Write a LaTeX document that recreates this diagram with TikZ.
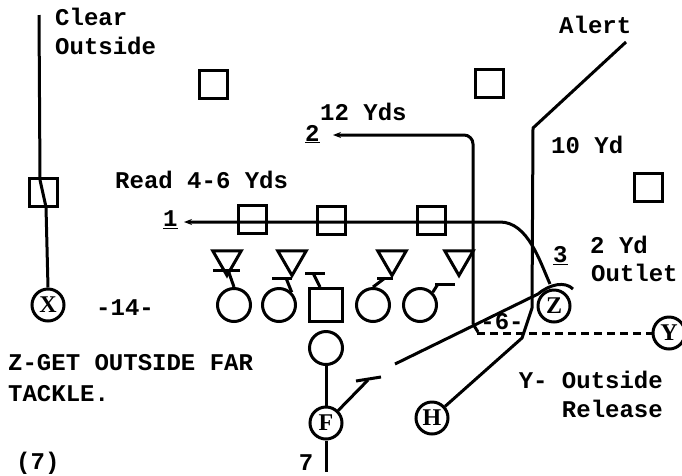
\documentclass[tikz,border=0pt]{standalone}
\usepackage{fontspec}
\setmainfont{Liberation Mono}
\newfontfamily\recfont{Liberation Serif}
\usetikzlibrary{shapes.geometric,arrows.meta}
\begin{document}
\begin{tikzpicture}[x=1pt,y=-1pt,
  route/.style={draw, line width=3pt, line join=round},
  lab/.style={inner sep=0pt, font=\fontsize{24}{24}\selectfont\bfseries, anchor=west},
  pl/.style={circle, draw, line width=3pt, minimum size=33pt, inner sep=0pt},
  rec/.style={circle, draw, line width=3pt, minimum size=32pt, inner sep=0pt, font=\recfont\fontsize{24}{24}\selectfont\bfseries},
  sqr/.style={rectangle, draw, line width=3pt, minimum size=28pt, inner sep=0pt},
  csq/.style={rectangle, draw, line width=3pt, minimum size=33pt, inner sep=0pt},
  dl/.style={regular polygon, regular polygon sides=3, shape border rotate=180, draw, line width=3pt, minimum size=33pt, inner sep=0pt},
  tip/.style={-{Stealth[length=8pt,width=6pt]}}
]
\useasboundingbox (0,0) rectangle (682,475);

% labels
\node[lab] (tclear) at (55,17) {Clear};
\node[lab] (tout) at (55,46) {Outside};
\node[lab] (talert) at (559,25) {Alert};
\node[lab] (t12) at (320,112) {12 Yds};
\node[lab] (t2) at (305,134) {\underline{2}};
\node[lab] (t10) at (551,145) {10 Yd};
\node[lab] (tread) at (115,180) {Read 4-6 Yds};
\node[lab] (t1) at (163,220) {\underline{1}};
\node[lab] (t2yd) at (590,245) {2 Yd};
\node[lab] (toutlet) at (591,273) {Outlet};
\node[lab] (t3) at (553,256) {\underline{3}};
\node[lab] (t14) at (96,308) {-14-};
\node[lab, anchor=center] (t6) at (502,322) {-6-};
\node[lab] (tz1) at (8,363) {Z-GET OUTSIDE FAR};
\node[lab] (tz2) at (8,394) {TACKLE.};
\node[lab, anchor=east] (ty1) at (663,380) {Y- Outside};
\node[lab, anchor=east] (ty2) at (663,409) {Release};
\node[lab] (t7p) at (16,463) {(7)};
\node[lab, anchor=center] (t7) at (306,463) {7};

% defenders (squares)
\node[sqr] (s1) at (213,84) {};
\node[sqr] (s2) at (489,83) {};
\node[sqr] (s3) at (648,187) {};
\node[sqr] (s4) at (43,192) {};
\node[sqr] (lb1) at (252,219) {};
\node[sqr] (lb2) at (331,220) {};
\node[sqr] (lb3) at (431,220) {};

% defensive line
\node[dl] (d1) at (227,259) {};
\node[dl] (d2) at (292,259) {};
\node[dl] (d3) at (392,259) {};
\node[dl] (d4) at (459,259) {};

% offensive line
\node[pl] (c1) at (234,305) {};
\node[pl] (c2) at (279,305) {};
\node[csq] (cc) at (326,305) {};
\node[pl] (c3) at (373,305) {};
\node[pl] (c4) at (420,305) {};
\node[pl] (qb) at (326,348) {};

% receivers / backs
\node[rec] (x) at (48,305) {X};
\node[rec] (z) at (554,306) {Z};
\node[rec] (y) at (669,333) {Y};
\node[rec] (f) at (326,423) {F};
\node[rec] (h) at (432,418) {H};

% blocks
\coordinate (b1) at (228,270);
\coordinate (b2) at (286,278);
\coordinate (b3) at (313,273);
\coordinate (b4) at (385,278);
\coordinate (b5) at (438,284);
\draw[route] (c1.north) -- (b1);
\draw[route] ([xshift=-15pt]b1) -- ([xshift=12pt]b1);
\draw[route] (c2.north east) -- (b2);
\draw[route] ([xshift=-14pt]b2) -- ([xshift=6pt]b2);
\draw[route] (cc.north) ++(-6pt,0) -- (b3);
\draw[route] ([xshift=-8pt]b3) -- ([xshift=12pt]b3);
\draw[route] (c3.north) -- (b4);
\draw[route] ([xshift=-8pt]b4) -- ([xshift=8pt]b4);
\draw[route] (c4.north east) -- (b5);
\draw[route] ([xshift=-3pt]b5) -- ([xshift=17pt]b5);

% X route
\coordinate (xt) at (39,15);
\draw[route] (xt) -- (40,180) -- (46,207) -- (x.north);

% route 2
\coordinate (j) at (473,324);
\coordinate (e2) at (333,135);
\draw[route,tip,rounded corners=9pt] (j) -- (473,135) -- (e2);
\draw[route] (j) -- (478,332);

% route 1 / 3
\coordinate (z3) at (550,284);
\coordinate (e1) at (184,222);
\draw[route,tip] (z3) .. controls (540,262) and (528,222) .. (500,222) -- (e1);

% H route to Alert
\coordinate (al) at (626,42);
\draw[route] (h) -- (522,338) -- (532,308) -- (533,128) -- (al);

% long diagonal to Z
\coordinate (dg) at (395,364);
\draw[route] (dg) -- (538,294) .. controls (550,284) and (565,281) .. (573,289);

% dashed Y line
\coordinate (ds) at (477,333);
\draw[route, dash pattern=on 8pt off 5pt] (ds) -- (y);

% fullback / QB line
\coordinate (f7) at (326,472);
\draw[route] (qb) -- (f);
\draw[route] (f) -- (f7);
\coordinate (fr) at (368,380);
\draw[route] (f) -- (fr);
\draw[route] (356,381) -- (381,377);
\end{tikzpicture}
\end{document}
